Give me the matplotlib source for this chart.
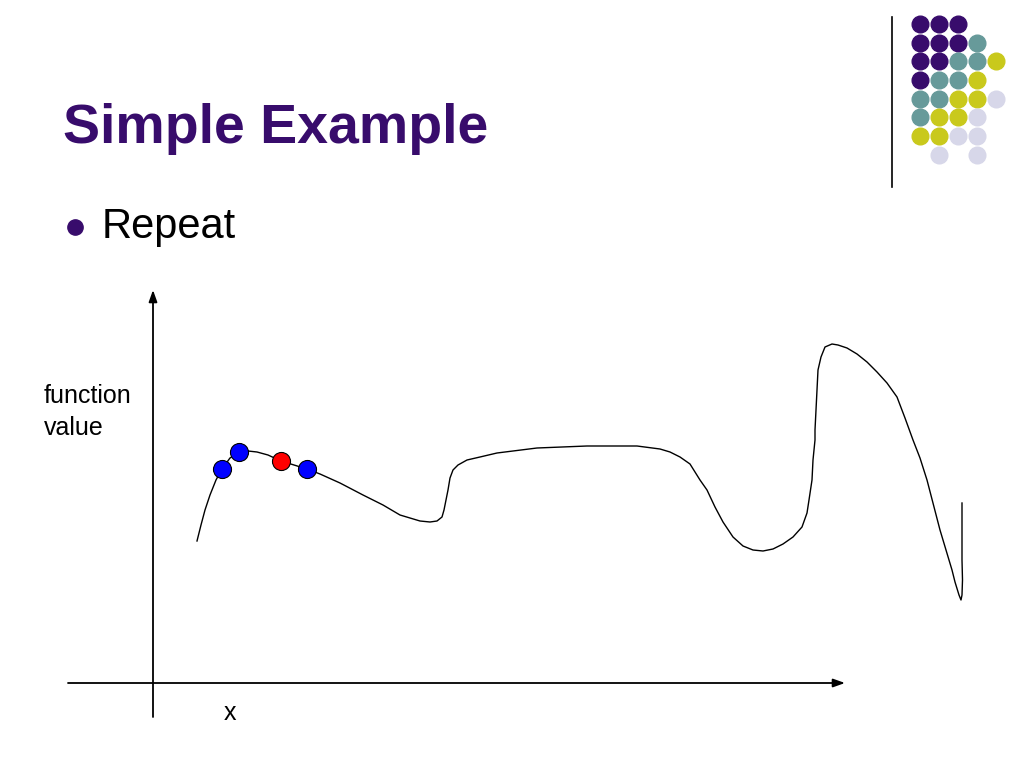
import matplotlib

matplotlib.use("Agg")
import matplotlib.pyplot as plt
from matplotlib.lines import Line2D

plt.rcParams["font.family"] = ["Liberation Sans", "DejaVu Sans"]

curve_x = [44, 48, 52, 57, 63, 69, 77, 86, 95, 104, 115, 128, 141, 154, 167, 187, 210, 230,
           247, 257, 267, 277, 284, 289, 291, 293, 295, 297, 300, 305, 314, 327, 344, 384,
           434, 484, 507, 517, 527, 537, 547, 554, 562, 570, 580, 590, 600, 610, 620, 630,
           640, 649, 654, 656, 659, 660, 662, 662, 663, 664, 665, 668, 672, 679, 685, 694,
           704, 714, 724, 734, 744, 752, 760, 767, 774, 787, 799, 802, 806, 808, 809, 809.5,
           809, 809, 809]
curve_y = [142, 158, 173, 188, 203, 214, 225, 231, 232, 231, 228, 222, 218, 214, 209, 200, 188, 178,
           168, 165, 162, 161, 162, 166, 173, 183, 193, 205, 213, 218, 223, 226, 230, 235,
           237, 237, 234, 231, 226, 219, 203, 193, 176, 161, 146, 137, 133, 132, 134, 139,
           146, 156, 170, 183, 203, 223, 243, 253, 273, 293, 313, 326, 336, 339, 338, 335,
           329, 321, 311, 300, 286, 265, 243, 225, 203, 153, 113, 101, 88, 83, 88, 103,
           123, 153, 180]

blue_x = [69, 86, 154]
blue_y = [214, 231, 214]
red_x = [128]
red_y = [222]

# decorative dot grid (top right)
grid_rows = [
    "PPP..",
    "PPPT.",
    "PPTTY",
    "PTTY.",
    "TTYYL",
    "TYYL.",
    "YYLL.",
    ".L.L.",
]
grid_colors = {"P": "#380c6c", "T": "#679a9a", "Y": "#c9c91c", "L": "#d7d7e9"}

W, H = 1024, 768
fig = plt.figure(figsize=(W / 100, H / 100), dpi=100)

# main axes: one data unit = one pixel, origin at the drawn axes crossing
ox, oy = 153, 683
ax = fig.add_axes([0, 0, 1, 1])
ax.set_xlim(-ox, W - ox)
ax.set_ylim(-(H - oy), oy)
ax.axis("off")

arrow = dict(arrowstyle="-|>,head_length=0.7,head_width=0.25", color="black", lw=1.3,
             shrinkA=0, shrinkB=0)
ax.annotate("", xy=(0, 393), xytext=(0, -34), arrowprops=arrow)
ax.annotate("", xy=(692, 0), xytext=(-85, 0), arrowprops=arrow)

ax.plot(curve_x, curve_y, color="black", lw=1.0, solid_joinstyle="round")
ax.plot(blue_x, blue_y, ls="none", marker="o", ms=13, mfc="#0000ff", mec="black", mew=0.8, zorder=3)
ax.plot(red_x, red_y, ls="none", marker="o", ms=13, mfc="#ff0000", mec="black", mew=0.8, zorder=3)

ax.text(-109, 271, "function\nvalue", fontsize=18, ha="left", va="center", linespacing=1.4)
ax.text(77, -30, "x", fontsize=18, ha="center", va="center")

# slide text
purple = "#380c6c"
fig.text(63 / W, 1 - 143 / H, "Simple Example", fontsize=40, fontweight="bold", color=purple,
         ha="left", va="baseline")
fig.text(102 / W, 1 - 238 / H, "Repeat", fontsize=30, color="black", ha="left", va="baseline")
ax.plot([75 - ox], [oy - 227], marker="o", ms=11, color=purple, ls="none")

# separator line next to the dot grid
fig.add_artist(Line2D([892 / W, 892 / W], [1 - 17 / H, 1 - 187 / H], color="black", lw=1.2))

gx = fig.add_axes([910.5 / W, 1 - (14.6 + 149.6) / H, 95 / W, 149.6 / H])
gx.set_xlim(-0.5, 4.5)
gx.set_ylim(len(grid_rows) - 0.5, -0.5)
gx.axis("off")
for r, row in enumerate(grid_rows):
    for c, ch in enumerate(row):
        if ch in grid_colors:
            gx.plot([c], [r], marker="o", ms=12, color=grid_colors[ch], ls="none")

fig.savefig("out.png", dpi=100)
